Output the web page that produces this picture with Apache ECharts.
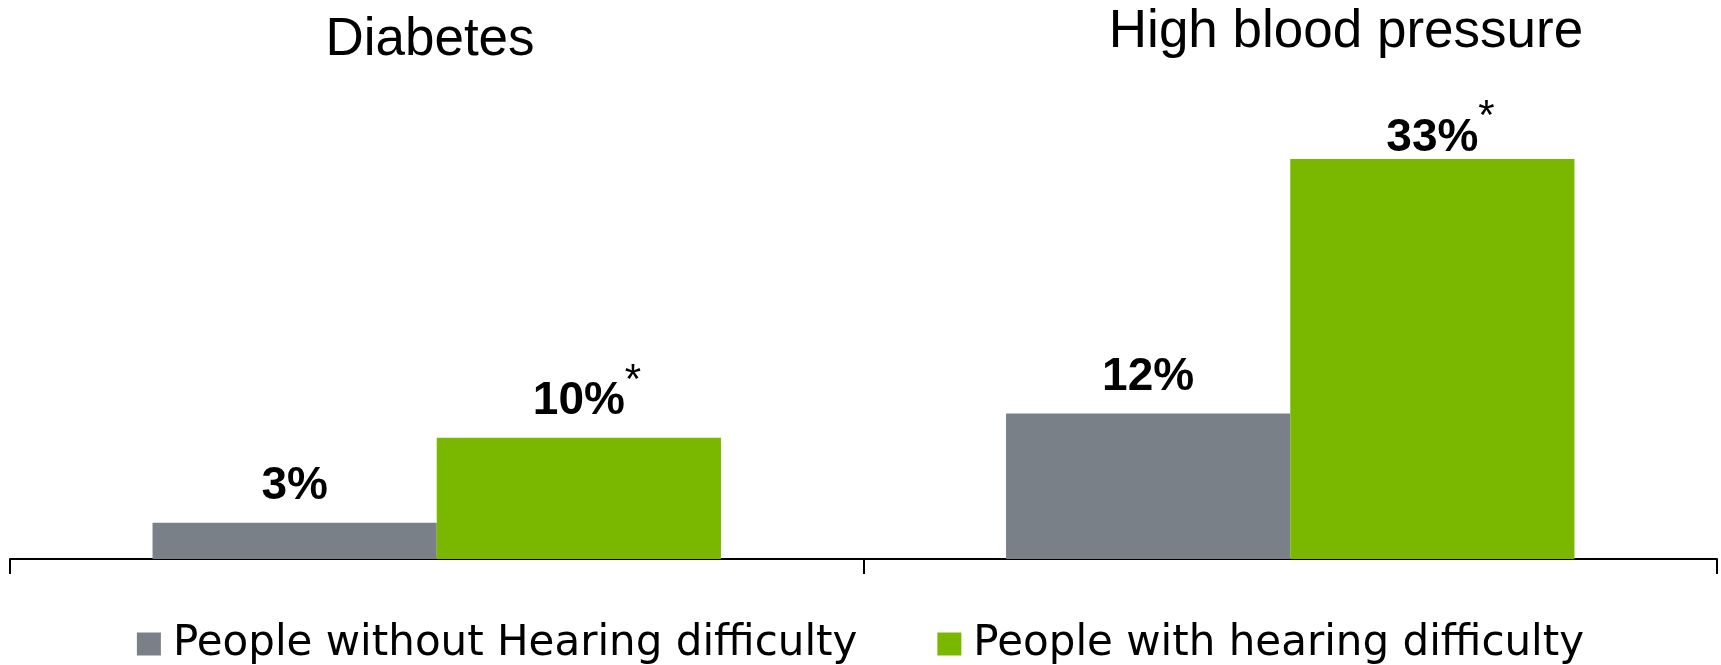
<!DOCTYPE html>
<html><head><meta charset="utf-8">
<script src="https://cdn.jsdelivr.net/npm/echarts@6/dist/echarts.min.js"></script>
<style>html,body{margin:0;padding:0;background:#fff}#c{width:1721px;height:665px}</style>
</head><body><div id="c"></div>
<script>
// ---- data ----
const categories = ['Diabetes', 'High blood pressure'];
const seriesNames = ['People without Hearing difficulty', 'People with hearing difficulty'];
const withoutValues = [3, 12];
const withValues = [10, 33];
const withoutSignificant = [false, false];
const withSignificant = [true, true];

// ---- styles ----
const colors = ['#7a8088', '#7ab800'];
const SANS = '"Liberation Sans", Arial, sans-serif';
const labelDist = [[13, 13], [13, -2]];   // per series, per category

const significant = [withoutSignificant, withSignificant];
const chart = echarts.init(document.getElementById('c'), null, {renderer: 'canvas'});

function makeSeries(idx, values) {
  return {
    name: seriesNames[idx],
    type: 'bar',
    barWidth: '33.3%',
    barGap: '0%',
    itemStyle: {color: colors[idx]},
    data: values.map((v, i) => ({value: v, label: {distance: labelDist[idx][i]}})),
    label: {
      show: true,
      position: 'top',
      formatter: p => significant[p.seriesIndex][p.dataIndex]
        ? '{g| }{v|' + p.value + '%}{s|*}'
        : '{v|' + p.value + '%}',
      rich: {
        v: {fontSize: 46, fontWeight: 'bold', fontFamily: SANS, color: '#000', lineHeight: 46, verticalAlign: 'bottom'},
        s: {fontSize: 42, fontFamily: SANS, color: '#000', lineHeight: 42, width: 16, padding: [0, 0, 22, 0], verticalAlign: 'bottom'},
        g: {fontSize: 42, fontFamily: SANS, lineHeight: 42, width: 16, verticalAlign: 'bottom'}
      }
    }
  };
}

const titleX = [430, 1346];
const titleY = [40, 32];

chart.setOption({
  animation: false,
  backgroundColor: '#fff',
  grid: {left: 10, right: 4, top: 74, bottom: 106, containLabel: false},
  xAxis: {
    type: 'category',
    data: categories,
    axisLine: {lineStyle: {color: '#000', width: 2}},
    axisTick: {show: true, length: 15, lineStyle: {color: '#000', width: 2}},
    axisLabel: {show: false}
  },
  yAxis: {type: 'value', min: 0, max: 40, show: false, splitLine: {show: false}},
  legend: {
    data: seriesNames,
    left: 'center',
    top: 618,
    icon: 'rect',
    itemWidth: 24,
    itemHeight: 23,
    itemGap: 80,
    textStyle: {fontFamily: '"DejaVu Sans", Verdana, sans-serif', fontSize: 42, color: '#000', padding: [0, 0, 0, 7]}
  },
  graphic: categories.map((c, i) => ({
    type: 'text',
    x: titleX[i],
    y: titleY[i],
    style: {text: c, font: '53px ' + SANS, fill: '#000', align: 'center', verticalAlign: 'middle'}
  })),
  series: [makeSeries(0, withoutValues), makeSeries(1, withValues)]
});
</script></body></html>
